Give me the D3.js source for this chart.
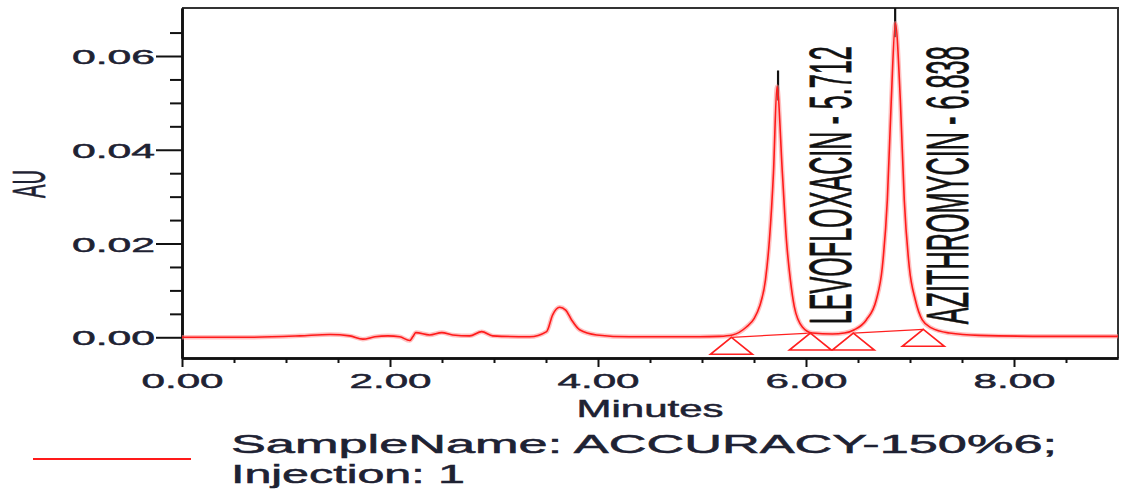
<!DOCTYPE html>
<html>
<head>
<meta charset="utf-8">
<script src="https://cdn.jsdelivr.net/npm/d3@7"></script>
<style>
body { margin: 0; background: #fff; }
text { font-family: "Liberation Sans", Arial, sans-serif; fill: #1e2233; stroke: #1e2233; stroke-width: 0.5px; }
</style>
</head>
<body>
<svg id="chart" width="1126" height="493"></svg>
<script>
var w = 1126;
var h = 493;

// chromatogram trace (minutes, AU)
var traceTime = [0.000, 0.653, 1.134, 1.422, 1.614, 1.739, 1.854, 1.979, 2.094, 2.190, 2.219, 2.248,
    2.382, 2.498, 2.603, 2.767, 2.882, 2.988, 3.343, 3.506, 3.564, 3.631, 3.689, 3.746, 3.823, 3.987,
    4.304, 4.976, 5.168, 5.293, 5.427, 5.504, 5.552, 5.610, 5.648, 5.687, 5.721, 5.773, 5.812, 5.850,
    5.888, 5.965, 6.061, 6.254, 6.369, 6.465, 6.580, 6.676, 6.734, 6.782, 6.820, 6.859, 6.907, 6.945,
    6.993, 7.051, 7.118, 7.205, 7.378, 7.666, 8.338, 9.000];
var traceAU = [0.0000, 0.0000, 0.0003, 0.0006, 0.0003, -0.0004, 0.0001, 0.0003, 0.0001, -0.0007, 0.0001, 0.0010,
    0.0005, 0.0010, 0.0005, 0.0003, 0.0012, 0.0003, 0.0001, 0.0012, 0.0048, 0.0064, 0.0058, 0.0037, 0.0016, 0.0005,
    0.0001, 0.0001, 0.0002, 0.0005, 0.0022, 0.0041, 0.0065, 0.0122, 0.0207, 0.0350, 0.0535, 0.0350, 0.0207, 0.0122,
    0.0065, 0.0022, 0.0009, 0.0007, 0.0009, 0.0016, 0.0037, 0.0080, 0.0150, 0.0293, 0.0506, 0.0670, 0.0506, 0.0293,
    0.0150, 0.0080, 0.0037, 0.0020, 0.0009, 0.0004, 0.0002, 0.0002];

// named peaks
var peakNames = ["LEVOFLOXACIN", "AZITHROMYCIN"];
var peakRT = [5.712, 6.838];
var peakApex = [0.0535, 0.0670];

// integration start / end markers (minutes, AU)
var markTime = [5.283, 6.042, 6.455, 7.128];
var markAU = [0.0000, 0.0009, 0.0009, 0.0017];

var yMajor = [0, 0.02, 0.04, 0.06];
var yMinor = [0.005, 0.01, 0.015, 0.025, 0.03, 0.035, 0.045, 0.05, 0.055, 0.065];
var xMajor = [0, 2, 4, 6, 8];
var xMinor = [0.5, 1, 1.5, 2.5, 3, 3.5, 4.5, 5, 5.5, 6.5, 7, 7.5, 8.5];

var legendLines = ["SampleName: ACCURACY-150%6;", "Injection: 1"];

var mLeft = 182, mRight = 1118, mTop = 8, mBottom = 358;

var svg = d3.select("#chart");

var xScale = d3.scaleLinear().domain([0, 9]).range([mLeft, mRight]);
var yScale = d3.scaleLinear().domain([-0.00442, 0.07024]).range([mBottom, mTop]);

svg.append("clipPath").attr("id", "plot")
    .append("rect")
    .attr("x", mLeft).attr("y", mTop)
    .attr("width", mRight - mLeft).attr("height", mBottom - mTop);

// frame top and right
svg.append("path")
    .attr("d", "M" + mLeft + "," + mTop + "H" + mRight + "V" + mBottom)
    .attr("fill", "none")
    .attr("stroke", "#333")
    .attr("stroke-width", 2);

// y axis
var yAxisMinor = d3.axisLeft(yScale).tickValues(yMinor).tickSize(12).tickSizeOuter(0).tickFormat("");
var yAxis = d3.axisLeft(yScale).tickValues(yMajor).tickSize(26).tickSizeOuter(0).tickPadding(1)
    .tickFormat(d3.format(".2f"));

svg.append("g").attr("transform", "translate(" + mLeft + ",0)").call(yAxisMinor);
var gy = svg.append("g").attr("transform", "translate(" + mLeft + ",0)").call(yAxis);

// x axis
var xAxisMinor = d3.axisBottom(xScale).tickValues(xMinor).tickSize(5).tickSizeOuter(0).tickFormat("");
var xAxis = d3.axisBottom(xScale).tickValues(xMajor).tickSize(9).tickSizeOuter(0)
    .tickFormat(d3.format(".2f"));

svg.append("g").attr("transform", "translate(0," + mBottom + ")").call(xAxisMinor);
var gx = svg.append("g").attr("transform", "translate(0," + mBottom + ")").call(xAxis);

svg.selectAll(".tick line").attr("stroke", "#111").attr("stroke-width", 2);
svg.selectAll(".domain").attr("stroke", "#111").attr("stroke-width", 2.6);

gy.selectAll("text")
    .attr("font-size", 21)
    .attr("dy", "0.36em")
    .attr("textLength", 83)
    .attr("lengthAdjust", "spacingAndGlyphs")
    .style("fill", "#1e2233");

gx.selectAll("text")
    .attr("font-size", 21)
    .attr("y", 30)
    .attr("dy", 0)
    .attr("textLength", 82)
    .attr("lengthAdjust", "spacingAndGlyphs")
    .style("fill", "#1e2233");

// axis titles
svg.append("text")
    .attr("transform", "translate(45,184) scale(2.2,1) rotate(-90)")
    .attr("text-anchor", "middle")
    .attr("font-size", 21)
    .attr("textLength", 28)
    .attr("lengthAdjust", "spacingAndGlyphs")
    .style("stroke-width", "0.3px")
    .text("AU");

svg.append("text")
    .attr("x", (mLeft + mRight) / 2)
    .attr("y", 417)
    .attr("text-anchor", "middle")
    .attr("font-size", 24)
    .attr("textLength", 147)
    .attr("lengthAdjust", "spacingAndGlyphs")
    .text("Minutes");

// plot content
var plot = svg.append("g").attr("clip-path", "url(#plot)");

var trace = d3.range(traceTime.length).map(function (i) {
    return [traceTime[i], traceAU[i]];
});

var line = d3.line()
    .x(function (d) { return xScale(d[0]); })
    .y(function (d) { return yScale(d[1]); })
    .curve(d3.curveMonotoneX);

// integration baselines
var baseSegs = [[0, 1], [2, 3]];
plot.selectAll("line.base")
    .data(baseSegs)
    .enter()
    .append("line")
    .attr("class", "base")
    .attr("x1", function (d) { return xScale(markTime[d[0]]); })
    .attr("y1", function (d) { return yScale(markAU[d[0]]); })
    .attr("x2", function (d) { return xScale(markTime[d[1]]); })
    .attr("y2", function (d) { return yScale(markAU[d[1]]); })
    .attr("stroke", "#ff2020")
    .attr("stroke-width", 1.3);

// apex markers
plot.selectAll("line.apex")
    .data(peakRT)
    .enter()
    .append("line")
    .attr("class", "apex")
    .attr("x1", function (d) { return xScale(d) + 2; })
    .attr("x2", function (d) { return xScale(d) + 2; })
    .attr("y1", function (d, i) { return yScale(peakApex[i]) - 16; })
    .attr("y2", function (d, i) { return yScale(peakApex[i]) + 14; })
    .attr("stroke", "#111")
    .attr("stroke-width", 2.2);

plot.append("path")
    .datum(trace)
    .attr("d", line)
    .attr("fill", "none")
    .attr("stroke", "#ff8c8c")
    .attr("stroke-opacity", 0.55)
    .attr("stroke-width", 4.5);

plot.append("path")
    .datum(trace)
    .attr("d", line)
    .attr("fill", "none")
    .attr("stroke", "#ff1a1a")
    .attr("stroke-width", 1.6);

// start / end triangles
svg.selectAll("path.mark")
    .data(markTime)
    .enter()
    .append("path")
    .attr("class", "mark")
    .attr("d", function (d, i) {
        var px = xScale(d), py = yScale(markAU[i]);
        return "M" + px + "," + py + "L" + (px + 21) + "," + (py + 17) + "L" + (px - 21) + "," + (py + 17) + "Z";
    })
    .attr("fill", "none")
    .attr("stroke", "#ff2020")
    .attr("stroke-width", 1.6);

// peak labels
svg.selectAll("text.peak")
    .data(peakNames)
    .enter()
    .append("text")
    .attr("class", "peak")
    .attr("transform", function (d, i) {
        return "translate(" + (xScale(peakRT[i]) + 75) + "," + (yScale(0) - 13) + ") scale(2.35,1) rotate(-90)";
    })
    .attr("font-size", 25)
    .attr("textLength", 278)
    .attr("lengthAdjust", "spacingAndGlyphs")
    .style("fill", "#111")
    .style("stroke", "#111")
    .style("stroke-width", "0.35px")
    .text(function (d, i) { return d + " - " + peakRT[i].toFixed(3); });

// legend
svg.append("line")
    .attr("x1", 33).attr("x2", 191)
    .attr("y1", 459).attr("y2", 459)
    .attr("stroke", "#ff1a1a")
    .attr("stroke-width", 2);

var legendWidths = [826, 234];
svg.selectAll("text.legend")
    .data(legendLines)
    .enter()
    .append("text")
    .attr("class", "legend")
    .attr("x", 231)
    .attr("y", function (d, i) { return 453 + i * 30; })
    .attr("font-size", 25)
    .attr("textLength", function (d, i) { return legendWidths[i]; })
    .attr("lengthAdjust", "spacingAndGlyphs")
    .text(function (d) { return d; });
</script>
</body>
</html>
